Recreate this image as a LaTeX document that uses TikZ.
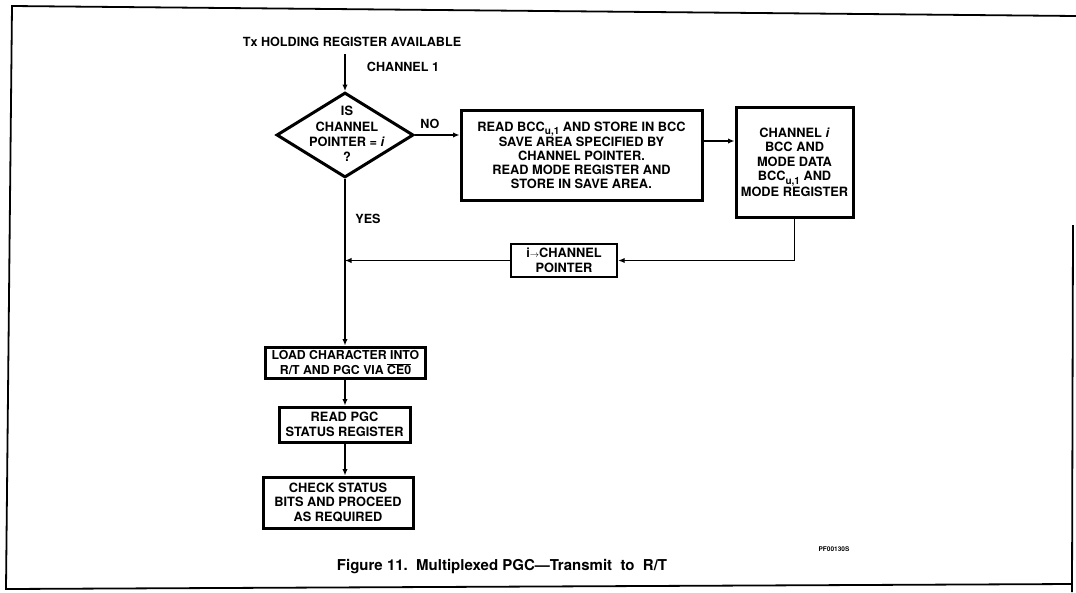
\documentclass[tikz,border=0pt]{standalone}
\usepackage{fontspec}
\setmainfont{TeX Gyre Heros}
\usetikzlibrary{shapes.geometric,arrows.meta}
\newcommand\lowsub[1]{\raisebox{-3.5pt}{\fontsize{10}{10}\selectfont #1}}
\begin{document}
\begin{tikzpicture}[x=1pt,y=-1pt,
  txt/.style={font=\fontsize{12.8}{14.5}\selectfont\bfseries, align=center, inner sep=0pt},
  boxn/.style={draw, line width=3pt, inner sep=0pt},
  dia/.style={draw, diamond, line width=3pt, inner sep=0pt},
  arr/.style={line width=1.5pt, -{Latex[length=6.5pt,width=5.5pt]}},
  framel/.style={line width=1.8pt},
  lbl/.style={font=\fontsize{12.6}{15}\selectfont\bfseries, inner sep=0pt}]
\useasboundingbox (0,0) rectangle (1076,592);

% frame
\draw[framel] (1076,16) -- (12,6) -- (6,589) -- (1072,584);
\draw[framel] (1073,225) -- (1072,592);

% title
\node[lbl] (title) at (352,42) {Tx HOLDING REGISTER AVAILABLE};
\node[lbl] (ch1) at (403,67) {CHANNEL 1};

% diamond
\node[dia, minimum width=137pt, minimum height=85pt] (d) at (345,135) {};
\node[txt, font=\fontsize{12.8}{15.3}\selectfont\bfseries] (dt) at (347,134) {IS\\CHANNEL\\POINTER = \textit{i}\\?};
\node[lbl] (no) at (430,124) {NO};
\node[lbl] (yes) at (368,219) {YES};

% boxes
\node[boxn, txt, minimum width=241pt, minimum height=90pt, font=\fontsize{12.8}{13.8}\selectfont\bfseries] (b1) at (581.5,155)
  {READ BCC\lowsub{u,1} AND STORE IN BCC\\SAVE AREA SPECIFIED BY\\CHANNEL POINTER.\\READ MODE REGISTER AND\\STORE IN SAVE AREA.};
\node[boxn, txt, minimum width=117pt, minimum height=110pt] (b2) at (794.5,162)
  {CHANNEL \textit{i}\\BCC AND\\MODE DATA\\BCC\lowsub{u,1} AND\\MODE REGISTER};
\node[boxn, txt, minimum width=106pt, minimum height=33pt, line width=2.4pt] (b3) at (564,260.5)
  {i$\scriptstyle\rightarrow$CHANNEL\\POINTER};
\node[boxn, txt, minimum width=160pt, minimum height=31pt, font=\fontsize{12.3}{14.5}\selectfont\bfseries] (b4) at (345.5,362.5)
  {LOAD CHARACTER INTO\\R/T AND PGC VIA $\overline{\mbox{CE0}}$};
\node[boxn, txt, minimum width=131pt, minimum height=35pt] (b5) at (344.5,424.5)
  {READ PGC\\STATUS REGISTER};
\node[boxn, txt, minimum width=150pt, minimum height=51pt] (b6) at (338,502.5)
  {CHECK STATUS\\BITS AND PROCEED\\AS REQUIRED};

% connectors
\coordinate (top) at (345,54);
\draw[arr] (top) -- (d.north);
\draw[arr] (d.east) -- (d.east -| b1.west);
\draw[arr] ([yshift=14pt]b1.east) -- ([yshift=14pt]b1.east -| b2.west);
\coordinate (c1) at (b2.south |- b3.east);
\draw[arr] (b2.south) -- (c1) -- (b3.east);
\coordinate (j) at (d.south |- b3.west);
\draw[arr] (b3.west) -- (j);
\draw[arr] (d.south) -- (d.south |- b4.north);
\draw[arr] (b4.south -| d.south) -- (b5.north -| d.south);
\draw[arr] (b5.south -| d.south) -- (b6.north -| d.south);

% captions
\node[font=\fontsize{6.5}{7}\selectfont\bfseries, inner sep=0pt] (pf) at (834,549) {PF00130S};
\node[font=\fontsize{15}{17}\selectfont\bfseries, inner sep=0pt] (cap) at (502,567) {Figure 11.\ \ Multiplexed PGC---Transmit\ \ to\ \ R/T};
\end{tikzpicture}
\end{document}
